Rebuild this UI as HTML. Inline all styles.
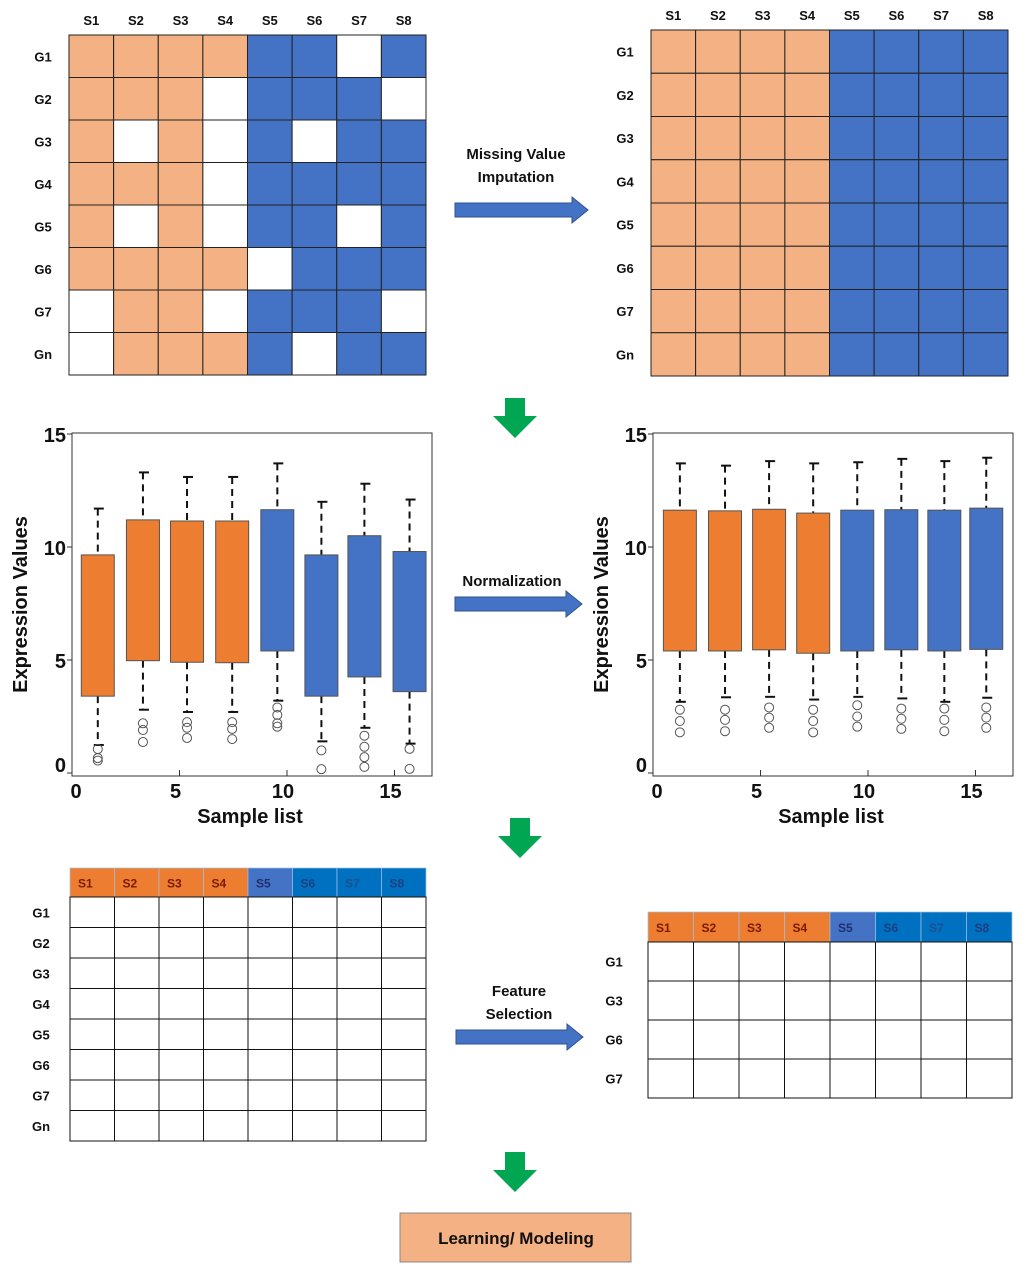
<!DOCTYPE html>
<html><head><meta charset="utf-8"><style>
html,body{margin:0;padding:0;background:#fff}
svg{display:block;font-family:"Liberation Sans",Arial,sans-serif}
</style></head><body>
<svg id="s" width="1032" height="1281" viewBox="0 0 1032 1281" xmlns="http://www.w3.org/2000/svg"></svg>
<script>
// ---- data ----
const sampleLabels = ["S1","S2","S3","S4","S5","S6","S7","S8"];
const geneLabels = ["G1","G2","G3","G4","G5","G6","G7","Gn"];
const missingPattern = [
 "OOOOBBWB","OOOWBBBW","OWOWBWBB","OOOWBBBB","OWOWBBWB","OOOOWBBB","WOOWBBBW","WOOOBWBB"];
const selectedGenes = ["G1","G3","G6","G7"];
const yTicks = [0,5,10,15];
const xTicks = [0,5,10,15];
const boxPos = [1.2,3.3,5.35,7.45,9.55,11.6,13.6,15.7];
const boxGroup = ["O","O","O","O","B","B","B","B"];
const rawQ3 = [9.65,11.2,11.15,11.15,11.65,9.65,10.5,9.8];
const rawQ1 = [3.4,4.97,4.9,4.88,5.4,3.4,4.25,3.6];
const rawHi = [11.7,13.3,13.1,13.1,13.7,12.0,12.8,12.1];
const rawLo = [1.24,2.8,2.7,2.7,3.2,1.4,2.0,1.3];
const rawOut = [[1.06,0.66,0.55],[2.2,1.9,1.37],[2.25,2.0,1.55],[2.25,1.95,1.5],[2.9,2.57,2.2,2.05],[1.0,0.17],[1.65,1.16,0.7,0.27],[1.07,0.18]];
const normPos = [1.25,3.35,5.4,7.45,9.5,11.55,13.55,15.5];
const normQ3 = [11.63,11.6,11.67,11.5,11.63,11.65,11.63,11.72];
const normQ1 = [5.4,5.4,5.45,5.3,5.4,5.45,5.4,5.47];
const normHi = [13.7,13.6,13.8,13.7,13.75,13.9,13.8,13.95];
const normLo = [3.15,3.35,3.37,3.25,3.37,3.3,3.15,3.33];
const normOut = [[2.8,2.3,1.8],[2.8,2.35,1.85],[2.9,2.45,2.0],[2.8,2.3,1.8],[3.0,2.5,2.05],[2.85,2.4,1.95],[2.85,2.35,1.85],[2.9,2.45,2.0]];

const S=document.getElementById('s');const NS="http://www.w3.org/2000/svg";
function el(t,a,txt){const e=document.createElementNS(NS,t);for(const k in a)e.setAttribute(k,a[k]);if(txt!==undefined)e.textContent=txt;S.appendChild(e);return e;}
const OR="#F4B183",BL="#4472C4";

function label(x,y,t,size,name,anchor){const e=el('text',{x:x,y:y,'font-size':size,'font-weight':'bold','text-anchor':anchor||'middle',fill:'#111'},t);

return e;}

// ---- top grids ----
function grid(x0,y0,w,h,pattern,nameP,labX,hdrY){
 const cw=w/8,rh=h/8;
 sampleLabels.forEach((s,i)=>label(x0+cw*i+cw/2,hdrY,s,13,nameP+'-col-'+s.toLowerCase()));
 geneLabels.forEach((g,j)=>label(labX,y0+rh*j+rh/2+5,g,13,nameP+'-row-'+g.toLowerCase()));
 for(let j=0;j<8;j++)for(let i=0;i<8;i++){
  const c=pattern[j][i];const r=el('rect',{x:x0+cw*i,y:y0+rh*j,width:cw,height:rh,fill:c==='O'?OR:c==='B'?BL:'#fff',stroke:'#222','stroke-width':1});
  
  }
}
grid(69,35,357,340,missingPattern,'raw-grid',43,25);
grid(651,30,357,346,Array(8).fill("OOOOBBBB"),'imputed-grid',625,20);

// ---- arrows ----
function rArrow(x,y,len,name){const p=el('path',{d:`M${x},${y-7}H${x+len-16}V${y-13}L${x+len},${y}L${x+len-16},${y+13}V${y+7}H${x}Z`,fill:BL,stroke:'#2f528f','stroke-width':1});

}
function dArrow(cx,y,name){const p=el('path',{d:`M${cx-10},${y}H${cx+10}V${y+18}H${cx+22}L${cx},${y+40}L${cx-22},${y+18}H${cx-10}Z`,fill:'#00A651'});

}
rArrow(455,210,133,'imputation-arrow');
label(516,159,'Missing  Value',15,'imputation-label-1');
label(516,182,'Imputation',15,'imputation-label-2');
dArrow(515,398,'down-arrow-1');
rArrow(455,604,127,'normalization-arrow');
label(512,586,'Normalization',15,'normalization-label');
dArrow(520,818,'down-arrow-2');
rArrow(456,1037,127,'feature-selection-arrow');
label(519,996,'Feature',15,'feature-label-1');
label(519,1019,'Selection',15,'feature-label-2');
dArrow(515,1152,'down-arrow-3');

// ---- boxplots ----
function boxplot(px,name,pos,q3,q1,hi,lo,out){
 const L=px,R=px+360,T=433,B=776;
 const xs=v=>L+21.5*v, ys=v=>773-22.6*v;
 const f=el('rect',{x:L,y:T,width:R-L,height:B-T,fill:'#fff',stroke:'#333','stroke-width':1});
 
 
 yTicks.forEach(t=>{el('line',{x1:L-5,x2:L,y1:ys(t),y2:ys(t),stroke:'#333'});
  label(L-6,ys(t)+(t===0?-1:8),String(t),20,name+'-ytick-'+t,'end');});
 xTicks.forEach(t=>{el('line',{x1:xs(t),x2:xs(t),y1:B,y2:B-6,stroke:'#333'});
  label(xs(t)+(t===0?4:-4),B+22,String(t),20,name+'-xtick-'+t);});
 label(L+178,B+47,'Sample list',20,name+'-x-axis-title');
 const yt=label(0,0,'Expression Values',20,name+'-y-axis-title');
 yt.setAttribute('transform',`translate(${L-45},${(T+B)/2}) rotate(-90)`);
 pos.forEach((p,i)=>{
  const cx=xs(p),w=33;
  el('line',{x1:cx,x2:cx,y1:ys(hi[i]),y2:ys(q3[i]),stroke:'#111','stroke-width':2,'stroke-dasharray':'7,5'});
  el('line',{x1:cx,x2:cx,y1:ys(q1[i]),y2:ys(lo[i]),stroke:'#111','stroke-width':2,'stroke-dasharray':'7,5'});
  el('line',{x1:cx-4,x2:cx+6,y1:ys(hi[i]),y2:ys(hi[i]),stroke:'#111','stroke-width':2});
  el('line',{x1:cx-4,x2:cx+6,y1:ys(lo[i]),y2:ys(lo[i]),stroke:'#111','stroke-width':2});
  const b=el('rect',{x:cx-w/2,y:ys(q3[i]),width:w,height:ys(q1[i])-ys(q3[i]),fill:boxGroup[i]==='O'?'#ED7D31':'#4472C4',stroke:'#555','stroke-width':1});
  
  
  out[i].forEach(o=>{const c=el('circle',{cx:cx,cy:ys(o),r:4.5,fill:'none',stroke:'#555','stroke-width':1});
   
   });
 });
}
boxplot(72,'raw-boxplot',boxPos,rawQ3,rawQ1,rawHi,rawLo,rawOut);
boxplot(653,'norm-boxplot',normPos,normQ3,normQ1,normHi,normLo,normOut);

// ---- bottom tables ----
const hdrCols=["#ED7D31","#ED7D31","#ED7D31","#ED7D31","#4472C4","#0070C0","#0070C0","#0070C0"];
const hdrTxt=["#7a1a00","#7a1a00","#7a1a00","#7a1a00","#1f2f70","#1f3f80","#1f4f90","#1f3f80"];
function table(x0,y0,w,hh,rh,rows,name,labX){
 const cw=w/8;
 sampleLabels.forEach((s,i)=>{const r=el('rect',{x:x0+cw*i,y:y0,width:cw,height:hh,fill:hdrCols[i],stroke:'#9dc3e6','stroke-width':0.7});
  
  
  label(x0+cw*i+8,y0+hh/2+5,s,12,name+'-header-'+s.toLowerCase(),'start').setAttribute('fill',hdrTxt[i]);});
 rows.forEach((g,j)=>{label(labX,y0+hh+rh*j+rh/2+5,g,13,name+'-row-'+g.toLowerCase());
  for(let i=0;i<8;i++){const r=el('rect',{x:x0+cw*i,y:y0+hh+rh*j,width:cw,height:rh,fill:'#fff',stroke:'#111','stroke-width':1});
   
   }});
}
table(70,868,356,29,30.5,geneLabels,'full-table',41);
table(648,912,364,30,39,selectedGenes,'selected-table',614);

// ---- learning box ----
const lb=el('rect',{x:400,y:1213,width:231,height:49,fill:OR,stroke:'#888','stroke-width':1});


label(516,1244,'Learning/ Modeling',17,'learning-modeling-label');
</script>
</body></html>
